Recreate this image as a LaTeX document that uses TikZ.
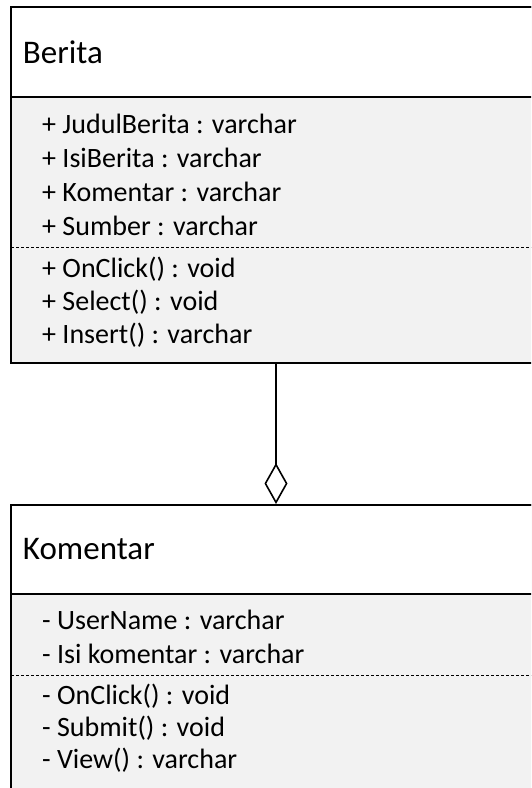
\documentclass[tikz,border=0pt]{standalone}
\usepackage{fontspec}
\setmainfont{Carlito}
\usepackage{xcolor}
\usetikzlibrary{arrows.meta,positioning}
\definecolor{bodygray}{RGB}{242,242,242}

\begin{document}
\begin{tikzpicture}[
  x=1pt, y=-1pt,
  classbox/.style={draw, line width=2pt, fill=bodygray, minimum width=530pt,
    inner sep=0pt},
  headbox/.style={draw, line width=2pt, fill=white, minimum width=530pt,
    minimum height=90pt, text width=506pt, inner xsep=12pt, inner ysep=0pt,
    align=left, font=\fontsize{33}{40}\selectfont},
  member/.style={anchor=base west, inner sep=0pt, font=\fontsize{28}{32}\selectfont},
  sepline/.style={dash pattern=on 3pt off 2pt, line width=1pt},
  aggr/.style={line width=1.6pt, -{Diamond[open, length=41pt, width=23pt]}}
]
\useasboundingbox (0,0) rectangle (531,788);
\clip (0,0) rectangle (531,788);

% class Berita
\node[classbox, minimum height=356pt, anchor=north west] (berita) at (10,6) {};
\node[headbox, anchor=north west] (beritaHead) at (berita.north west) {Berita};
\foreach \t [count=\i] in {+ JudulBerita : varchar, + IsiBerita : varchar,
    + Komentar : varchar, + Sumber : varchar}
  \node[member] (battr\i) at (42,{133+34*(\i-1)}) {\t};
\draw[sepline] (11,247) -- (531,247);
\foreach \t [count=\i] in {+ OnClick() : void, + Select() : void,
    + Insert() : varchar}
  \node[member] (bop\i) at (42,{277+33*(\i-1)}) {\t};

% class Komentar
\node[classbox, minimum height=320pt, anchor=north west] (komentar) at (10,504) {};
\node[headbox, anchor=north west, minimum height=89pt] (komentarHead) at (komentar.north west) {Komentar};
\foreach \t [count=\i] in {- UserName : varchar, - Isi komentar : varchar}
  \node[member] (kattr\i) at (42,{629+34*(\i-1)}) {\t};
\draw[sepline] (11,675) -- (531,675);
\foreach \t [count=\i] in {- OnClick() : void, - Submit() : void,
    - View() : varchar}
  \node[member] (kop\i) at (42,{704+32*(\i-1)}) {\t};

% aggregation
\draw[aggr] (berita.south) -- (komentar.north);
\end{tikzpicture}
\end{document}
